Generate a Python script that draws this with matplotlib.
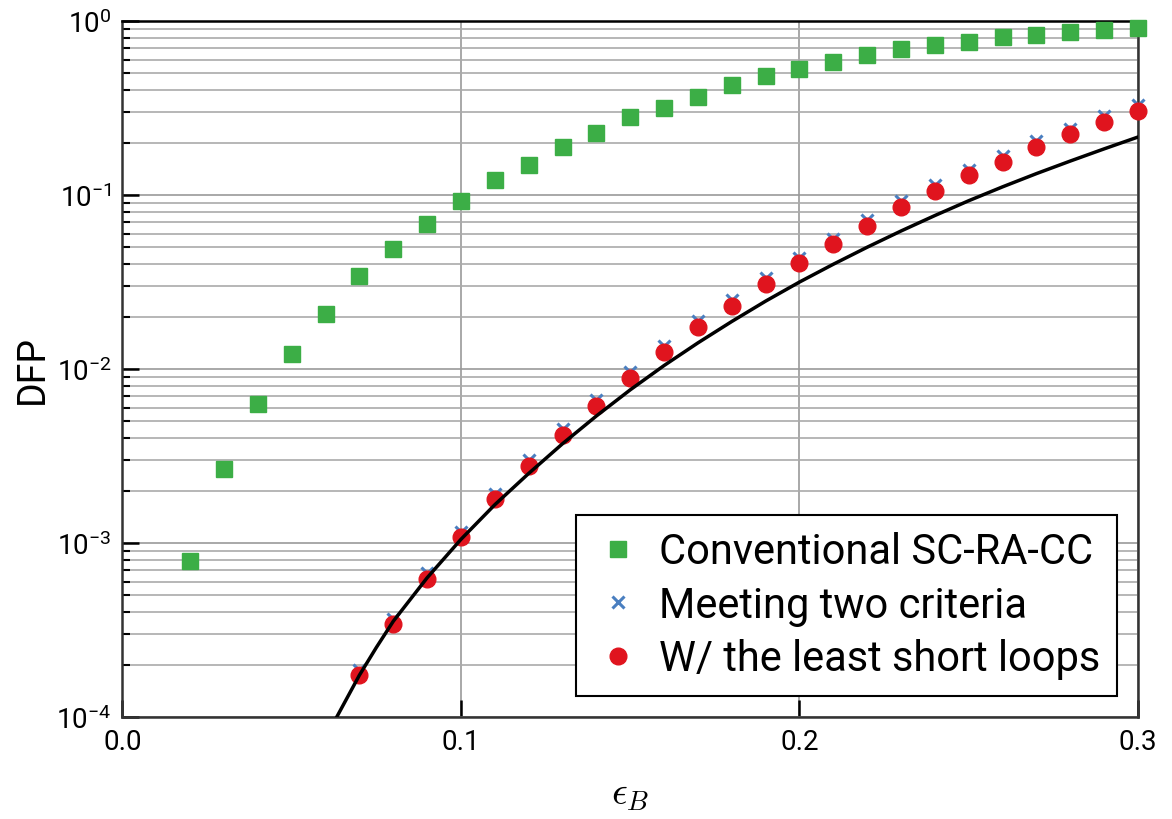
import matplotlib.pyplot as plt
from matplotlib.ticker import LogLocator, NullFormatter, FixedLocator

plt.rcParams['font.family'] = ['Roboto', 'DejaVu Sans']
plt.rcParams['mathtext.fontset'] = 'custom'
plt.rcParams['mathtext.rm'] = 'Roboto'

eps_conv = [0.02, 0.03, 0.04, 0.05, 0.06, 0.07, 0.08, 0.09, 0.10, 0.11, 0.12, 0.13, 0.14, 0.15,
            0.16, 0.17, 0.18, 0.19, 0.20, 0.21, 0.22, 0.23, 0.24, 0.25, 0.26, 0.27, 0.28, 0.29, 0.30]
dfp_conv = [7.9e-4, 2.66e-3, 6.29e-3, 0.01225, 0.0207, 0.0344, 0.0488, 0.0679, 0.0927, 0.1225,
            0.149, 0.1895, 0.228, 0.282, 0.318, 0.366, 0.429, 0.483, 0.532, 0.583, 0.638, 0.690,
            0.728, 0.757, 0.809, 0.834, 0.865, 0.891, 0.911]

eps_new = [0.07, 0.08, 0.09, 0.10, 0.11, 0.12, 0.13, 0.14, 0.15, 0.16, 0.17, 0.18,
           0.19, 0.20, 0.21, 0.22, 0.23, 0.24, 0.25, 0.26, 0.27, 0.28, 0.29, 0.30]
dfp_two = [1.87e-4, 3.68e-4, 6.68e-4, 1.16e-3, 1.91e-3, 2.98e-3, 4.52e-3, 6.64e-3, 9.62e-3,
           0.01356, 0.01875, 0.0249, 0.0333, 0.0437, 0.0562, 0.0718, 0.0918, 0.1135, 0.140,
           0.1675, 0.204, 0.241, 0.284, 0.329]
dfp_loops = [1.74e-4, 3.42e-4, 6.21e-4, 1.08e-3, 1.79e-3, 2.77e-3, 4.18e-3, 6.12e-3, 8.87e-3,
             0.01253, 0.01742, 0.0231, 0.0308, 0.0405, 0.0523, 0.0667, 0.0849, 0.105, 0.130,
             0.155, 0.1895, 0.224, 0.264, 0.305]

# black reference curve
eps_curve = [0.0633, 0.07, 0.075, 0.08, 0.09, 0.10, 0.11, 0.12, 0.13, 0.14, 0.15, 0.16, 0.17,
             0.18, 0.19, 0.20, 0.21, 0.22, 0.23, 0.24, 0.25, 0.26, 0.27, 0.28, 0.29, 0.30]
dfp_curve = [1.0e-4, 1.74e-4, 2.51e-4, 3.55e-4, 6.31e-4, 1.05e-3, 1.66e-3, 2.51e-3, 3.72e-3,
             5.37e-3, 7.59e-3, 0.01047, 0.01413, 0.01875, 0.02455, 0.0316, 0.040, 0.0501,
             0.0621, 0.0762, 0.0927, 0.1114, 0.1327, 0.1567, 0.1841, 0.2153]

fig = plt.figure(figsize=(11.72, 8.2), dpi=100)
ax = fig.add_axes([0.1045, 0.1244, 0.8665, 0.8488])

ax.plot(eps_conv, dfp_conv, 's', color='#3cae46', markersize=11, linestyle='none',
        label='Conventional SC-RA-CC', clip_on=False, zorder=3)
ax.plot(eps_new, dfp_two, 'x', color='#4a7fc0', markersize=9, markeredgewidth=2.2,
        linestyle='none', label='Meeting two criteria', clip_on=False, zorder=3)
ax.plot(eps_new, dfp_loops, 'o', color='#e0141e', markersize=12, linestyle='none',
        label='W/ the least short loops', clip_on=False, zorder=4)
ax.plot(eps_curve, dfp_curve, '-', color='black', linewidth=2.5, zorder=5)

ax.set_yscale('log')
ax.set_xlim(0, 0.3)
ax.set_ylim(1e-4, 1)
ax.xaxis.set_major_locator(FixedLocator([0.0, 0.1, 0.2, 0.3]))
ax.set_xticklabels(['0.0', '0.1', '0.2', '0.3'])
ax.yaxis.set_major_locator(LogLocator(base=10, numticks=10))
ax.yaxis.set_minor_locator(LogLocator(base=10, subs=range(2, 10), numticks=20))
ax.yaxis.set_minor_formatter(NullFormatter())

ax.grid(True, which='major', axis='both', color='#999999', linewidth=1.2)
ax.grid(True, which='minor', axis='y', color='#aaaaaa', linewidth=1.2)
ax.set_axisbelow(True)

ax.tick_params(axis='both', which='major', direction='in', length=12, width=1.8,
               labelsize=20, top=False, right=False, pad=8)
ax.tick_params(axis='y', which='minor', direction='in', length=6, width=1.5, right=False)
for s in ax.spines.values():
    s.set_linewidth(1.8)
    s.set_color('#333333')
ax.spines['top'].set_color('black')

ax.set_ylabel('DFP', fontsize=27, labelpad=4)
ax.set_xlabel(r'$\epsilon_B$', fontsize=28, math_fontfamily='cm', labelpad=14)

leg = ax.legend(loc='lower right', fontsize=30, frameon=True, fancybox=False,
                framealpha=1, edgecolor='black', borderaxespad=0.5, handletextpad=0.4,
                labelspacing=0.3, handlelength=1.2, borderpad=0.4)
leg.get_frame().set_linewidth(1.5)

fig.savefig('out.png', dpi=100)
